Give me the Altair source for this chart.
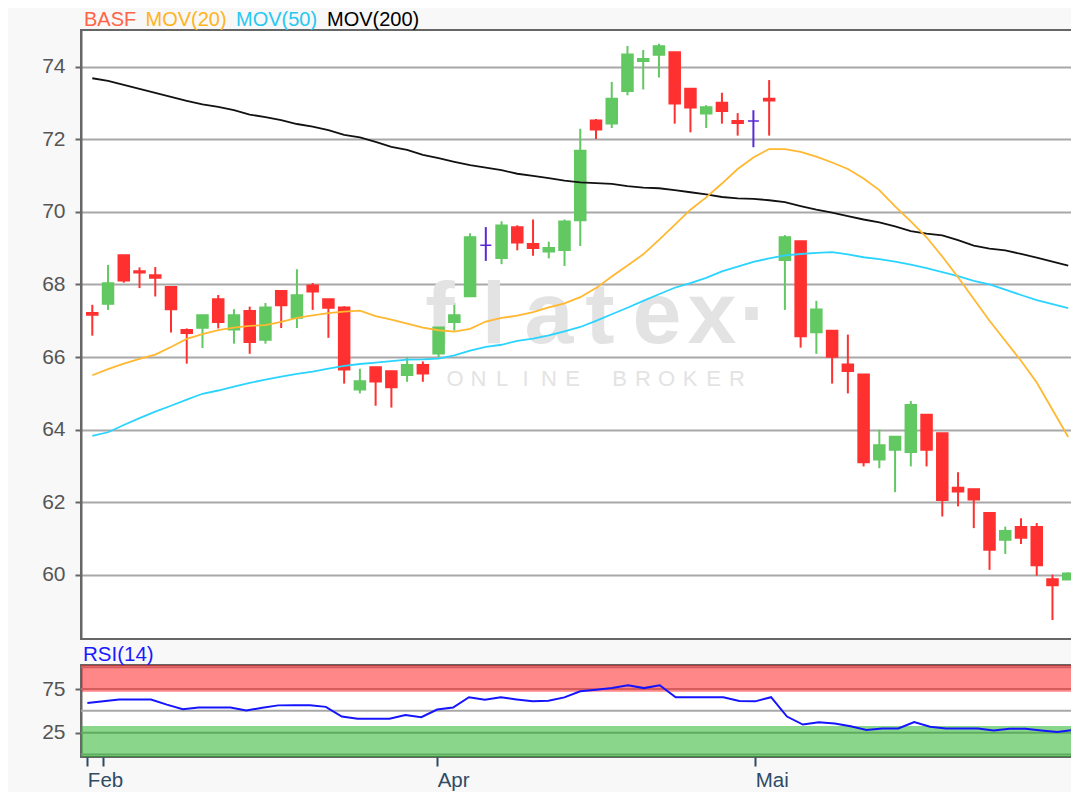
import altair as alt
import pandas as pd

# ---------------- data ----------------
idx = list(range(63))

open_ = [67.22, 67.46, 68.81, 68.37, 68.26, 67.94, 66.75, 66.80, 67.60, 66.75,
         67.28, 66.47, 67.83, 67.08, 67.98, 67.60, 67.37, 65.10, 65.73, 65.62,
         65.50, 65.79, 66.09, 66.96, 67.67, 69.08, 68.72, 69.58, 69.12, 68.90,
         68.94, 69.76, 72.52, 72.43, 73.32, 74.15, 74.32, 74.40, 73.40, 72.70,
         73.01, 72.51, 72.50, 73.12, 68.67, 69.20, 66.68, 66.73, 65.80, 65.53,
         63.17, 63.44, 63.38, 64.42, 63.91, 62.41, 62.37, 61.71, 60.96, 61.33,
         61.33, 59.89, 59.87]
high = [67.44, 68.54, 68.81, 68.47, 68.48, 67.94, 66.79, 67.16, 67.71, 67.32,
        67.39, 67.49, 67.83, 68.42, 68.04, 67.60, 67.40, 65.68, 65.73, 65.62,
        66.00, 65.88, 67.28, 67.49, 69.41, 69.58, 69.74, 69.63, 69.79, 69.18,
        69.79, 72.29, 72.56, 73.58, 74.57, 74.46, 74.63, 74.40, 73.40, 72.94,
        73.28, 72.72, 72.80, 73.63, 69.36, 69.20, 67.55, 66.73, 66.62, 65.53,
        64.00, 63.81, 64.79, 64.42, 63.91, 62.83, 62.37, 61.71, 61.33, 61.56,
        61.43, 60.01, 60.07]
low = [66.59, 67.30, 68.05, 67.90, 67.67, 66.68, 65.82, 66.25, 66.79, 66.37,
       66.09, 66.37, 66.80, 66.80, 67.30, 66.53, 65.27, 65.00, 64.66, 64.61,
       65.32, 65.32, 66.00, 66.73, 67.67, 68.65, 68.56, 68.94, 68.79, 68.72,
       68.51, 69.06, 72.01, 72.31, 73.21, 73.37, 73.70, 72.43, 72.19, 72.31,
       72.43, 72.10, 71.78, 72.10, 67.30, 66.26, 66.09, 65.27, 65.00, 62.99,
       62.94, 62.28, 62.99, 62.99, 61.61, 61.89, 61.29, 60.14, 60.58, 60.85,
       59.98, 58.76, 59.87]
close = [67.16, 68.04, 68.10, 68.32, 68.18, 67.31, 66.66, 67.16, 66.96, 67.16,
         66.41, 67.37, 67.42, 67.71, 67.80, 67.35, 65.65, 65.34, 65.32, 65.16,
         65.79, 65.54, 66.82, 67.16, 69.31, 69.08, 69.63, 69.15, 69.00, 69.01,
         69.74, 71.69, 72.26, 73.12, 74.34, 74.22, 74.57, 72.98, 72.87, 72.89,
         72.77, 72.44, 72.50, 73.06, 69.31, 66.57, 67.32, 66.00, 65.61, 63.10,
         63.58, 63.81, 64.69, 63.44, 62.06, 62.29, 62.07, 60.69, 61.22, 61.02,
         60.26, 59.71, 60.05]

mov20 = [65.50, 65.67, 65.82, 65.95, 66.07, 66.28, 66.50, 66.63, 66.74, 66.81,
         66.86, 66.88, 66.97, 67.08, 67.15, 67.21, 67.25, 67.28, 67.13, 67.03,
         66.92, 66.81, 66.74, 66.70, 66.78, 66.98, 67.08, 67.14, 67.24, 67.37,
         67.48, 67.65, 67.90, 68.22, 68.52, 68.83, 69.23, 69.64, 70.06, 70.40,
         70.78, 71.18, 71.50, 71.73, 71.73, 71.65, 71.52, 71.36, 71.18, 70.92,
         70.60, 70.15, 69.74, 69.30, 68.77, 68.20, 67.60, 67.00, 66.45, 65.90,
         65.30, 64.55, 63.80]
mov50 = [63.83, 63.93, 64.13, 64.32, 64.50, 64.66, 64.83, 64.99, 65.08, 65.19,
         65.29, 65.38, 65.46, 65.54, 65.60, 65.68, 65.76, 65.81, 65.85, 65.89,
         65.93, 65.94, 65.96, 66.05, 66.18, 66.28, 66.34, 66.45, 66.51, 66.60,
         66.71, 66.83, 67.00, 67.18, 67.36, 67.55, 67.73, 67.91, 68.04, 68.18,
         68.36, 68.49, 68.62, 68.72, 68.80, 68.84, 68.87, 68.89, 68.83, 68.75,
         68.70, 68.63, 68.55, 68.45, 68.34, 68.23, 68.10, 68.00, 67.86, 67.71,
         67.57, 67.46, 67.35]
mov200 = [73.68, 73.61, 73.50, 73.39, 73.28, 73.17, 73.06, 72.96, 72.89, 72.80,
          72.68, 72.61, 72.53, 72.42, 72.35, 72.25, 72.12, 72.05, 71.93, 71.79,
          71.71, 71.57, 71.48, 71.38, 71.29, 71.22, 71.15, 71.05, 70.99, 70.93,
          70.86, 70.81, 70.79, 70.77, 70.71, 70.67, 70.65, 70.60, 70.54, 70.48,
          70.41, 70.37, 70.36, 70.32, 70.27, 70.16, 70.06, 69.98, 69.88, 69.79,
          69.71, 69.60, 69.47, 69.40, 69.35, 69.22, 69.07, 68.99, 68.94, 68.84,
          68.74, 68.63, 68.52]
rsi14 = [59.1, 60.9, 63.1, 63.1, 63.1, 57.2, 52.0, 53.9, 53.9, 53.9,
         50.5, 53.5, 56.3, 56.5, 56.5, 54.6, 43.5, 41.0, 40.9, 40.9,
         45.2, 42.8, 51.5, 53.9, 65.7, 62.8, 65.7, 63.1, 60.9, 61.5,
         65.5, 72.4, 74.3, 76.1, 79.4, 76.1, 79.4, 65.7, 65.7, 65.7,
         65.7, 61.3, 60.9, 65.7, 43.5, 34.3, 36.9, 35.4, 32.4, 28.0,
         29.8, 29.8, 37.2, 31.7, 29.8, 29.8, 29.8, 27.6, 29.4, 29.4,
         27.6, 25.7, 28.0]

x_ticks = [0, 1, 22, 42]
x_tick_labels = ["Feb", "", "Apr", "Mai"]
price_ticks = [60, 62, 64, 66, 68, 70, 72, 74]
rsi_ticks = [25, 75]
rsi_grid = [0, 25, 50, 75, 100]
band_zone = ["over", "under"]
band_lo = [72.0, -2.9]
band_hi = [102.6, 32.6]

legend_words = ["BASF", "MOV(20)", "MOV(50)", "MOV(200)"]
watermark_word = list("flatex\u00b7")
watermark_sub = list("ONLINE BROKER")

# ---------------- styling / layout ----------------
FONT = "Liberation Sans, Arial, Helvetica, sans-serif"
W = 996
H_MAIN = 609
H_RSI = 92
X_DOMAIN = [-0.4, 62.24]
PRICE_DOMAIN = [58.236, 75.009]
RSI_DOMAIN = [-2.9, 102.6]

GREEN = "#62c862"
RED = "#ff3030"
BLUE = "#5a28d8"
legend_colors = ["#ff6447", "#ffb41e", "#28c8f0", "#000000"]
legend_x = [3, 64.5, 155, 246]
wm_x = [359, 413, 468, 519, 576, 631, 673]
wm_sub_x0, wm_sub_step = 374, 23.5
WM_COLOR = "#e3e3e3"
LEGEND_FS = 20
RSI_TITLE_FS = 20.5

df = pd.DataFrame({"i": idx, "open": open_, "high": high, "low": low,
                   "close": close, "mov20": mov20, "mov50": mov50,
                   "mov200": mov200})
rsi_df = pd.DataFrame({"i": idx, "rsi": rsi14})

x_scale = alt.Scale(domain=X_DOMAIN, nice=False, zero=False)
p_scale = alt.Scale(domain=PRICE_DOMAIN, nice=False, zero=False)
r_scale = alt.Scale(domain=RSI_DOMAIN, nice=False, zero=False)

y_axis_common = dict(domainColor="#666666", domainWidth=2, tickColor="#666666",
                     tickWidth=2, tickSize=6, labelPadding=10, labelFontSize=21,
                     labelColor="#555555", labelFont=FONT, title=None)
p_axis = alt.Axis(values=price_ticks, grid=True, gridColor="#a8a8a8",
                  gridWidth=2, **y_axis_common)
r_axis = alt.Axis(values=rsi_ticks, grid=False, **y_axis_common)

label_expr = " : ".join(
    [f"datum.value == {v} ? '{t}'" for v, t in zip(x_ticks, x_tick_labels)]
) + " : ''"
x_axis = alt.Axis(values=x_ticks, labelExpr=label_expr, grid=False, domain=False,
                  tickColor="#2f4b66", tickWidth=2, tickSize=9, labelAlign="left",
                  labelColor="#2f4b66", labelFontSize=20.5, labelFont=FONT,
                  labelPadding=4, labelFlush=False, labelOverlap=False,
                  labelBound=False, title=None)

dir_calc = "datum.close > datum.open ? 'up' : (datum.close < datum.open ? 'down' : 'flat')"
dir_scale = alt.Scale(domain=["up", "down", "flat"], range=[GREEN, RED, BLUE])
dir_color = alt.Color("dir:N", scale=dir_scale, legend=None)
dir_stroke = alt.Stroke("dir:N", scale=dir_scale, legend=None)

base = alt.Chart(df).transform_calculate(dir=dir_calc)

wicks = base.mark_rule(strokeWidth=2, clip=True).encode(
    x=alt.X("i:Q", scale=x_scale, axis=None),
    y=alt.Y("low:Q", scale=p_scale, axis=p_axis),
    y2="high:Q",
    color=dir_color,
)
bodies = base.mark_bar(size=11, strokeWidth=1.5, clip=True).encode(
    x=alt.X("i:Q", scale=x_scale, axis=None),
    y=alt.Y("open:Q", scale=p_scale, axis=p_axis),
    y2="close:Q",
    color=dir_color,
    stroke=dir_stroke,
)


def ma_line(field, color):
    return alt.Chart(df).mark_line(color=color, strokeWidth=1.8, clip=True).encode(
        x=alt.X("i:Q", scale=x_scale, axis=None),
        y=alt.Y(f"{field}:Q", scale=p_scale, axis=p_axis),
    )


line200 = ma_line("mov200", "#111111")
line50 = ma_line("mov50", "#2ad4ff")
line20 = ma_line("mov20", "#ffb830")

wm_layers = []
for ch, px in zip(watermark_word, wm_x):
    wm_layers.append(
        alt.Chart(pd.DataFrame({"t": [ch]})).mark_text(
            align="center", baseline="alphabetic", fontSize=88, fontWeight="bold",
            font=FONT, color=WM_COLOR
        ).encode(text="t:N", x=alt.value(px), y=alt.value(313))
    )
for k, ch in enumerate(watermark_sub):
    if ch.strip():
        wm_layers.append(
            alt.Chart(pd.DataFrame({"t": [ch]})).mark_text(
                align="center", baseline="alphabetic", fontSize=22,
                font=FONT, color=WM_COLOR
            ).encode(text="t:N", x=alt.value(wm_sub_x0 + k * wm_sub_step),
                     y=alt.value(356))
        )

legend_layers = []
for w, c, px in zip(legend_words, legend_colors, legend_x):
    legend_layers.append(
        alt.Chart(pd.DataFrame({"t": [w]})).mark_text(
            align="left", baseline="alphabetic", fontSize=LEGEND_FS, font=FONT, color=c
        ).encode(text="t:N", x=alt.value(px), y=alt.value(-3.8))
    )

main = alt.layer(wicks, *wm_layers, bodies, line200, line50, line20,
                 *legend_layers).properties(width=W, height=H_MAIN)

# ---------------- RSI panel ----------------
grid_df = pd.DataFrame({"v": rsi_grid})
band_df = pd.DataFrame({"zone": band_zone, "lo": band_lo, "hi": band_hi})

rsi_gridlines = alt.Chart(grid_df).mark_rule(color="#a8a8a8", strokeWidth=2).encode(
    y=alt.Y("v:Q", scale=r_scale, axis=r_axis)
)
bands = alt.Chart(band_df).mark_rect(opacity=0.5).encode(
    x=alt.X(datum=X_DOMAIN[0], scale=x_scale, axis=x_axis),
    x2=alt.X2(datum=X_DOMAIN[1]),
    y=alt.Y("lo:Q", scale=r_scale, axis=r_axis),
    y2="hi:Q",
    color=alt.Color("zone:N", scale=alt.Scale(domain=band_zone,
                                              range=["#ff1010", "#15ad15"]),
                    legend=None),
)
rsi_line = alt.Chart(rsi_df).mark_line(color="#1414ff", strokeWidth=2, clip=True).encode(
    x=alt.X("i:Q", scale=x_scale, axis=x_axis),
    y=alt.Y("rsi:Q", scale=r_scale, axis=r_axis),
)
rsi_title = alt.Chart(pd.DataFrame({"t": ["RSI(14)"]})).mark_text(
    align="left", baseline="alphabetic", fontSize=RSI_TITLE_FS, font=FONT,
    color="#1a1aff"
).encode(text="t:N", x=alt.value(2), y=alt.value(-4.3))

rsi = alt.layer(rsi_gridlines, bands, rsi_line, rsi_title).properties(
    width=W, height=H_RSI)

chart = alt.vconcat(main, rsi, spacing=3).resolve_scale(
    color="independent", stroke="independent"
).properties(
    padding={"left": 32, "top": 1, "right": -8, "bottom": 0},
    background="#f8f8f8",
).configure_view(stroke="#666666", strokeWidth=2, fill="white")

chart.save("out.html", embed_options={"renderer": "svg", "actions": False})
